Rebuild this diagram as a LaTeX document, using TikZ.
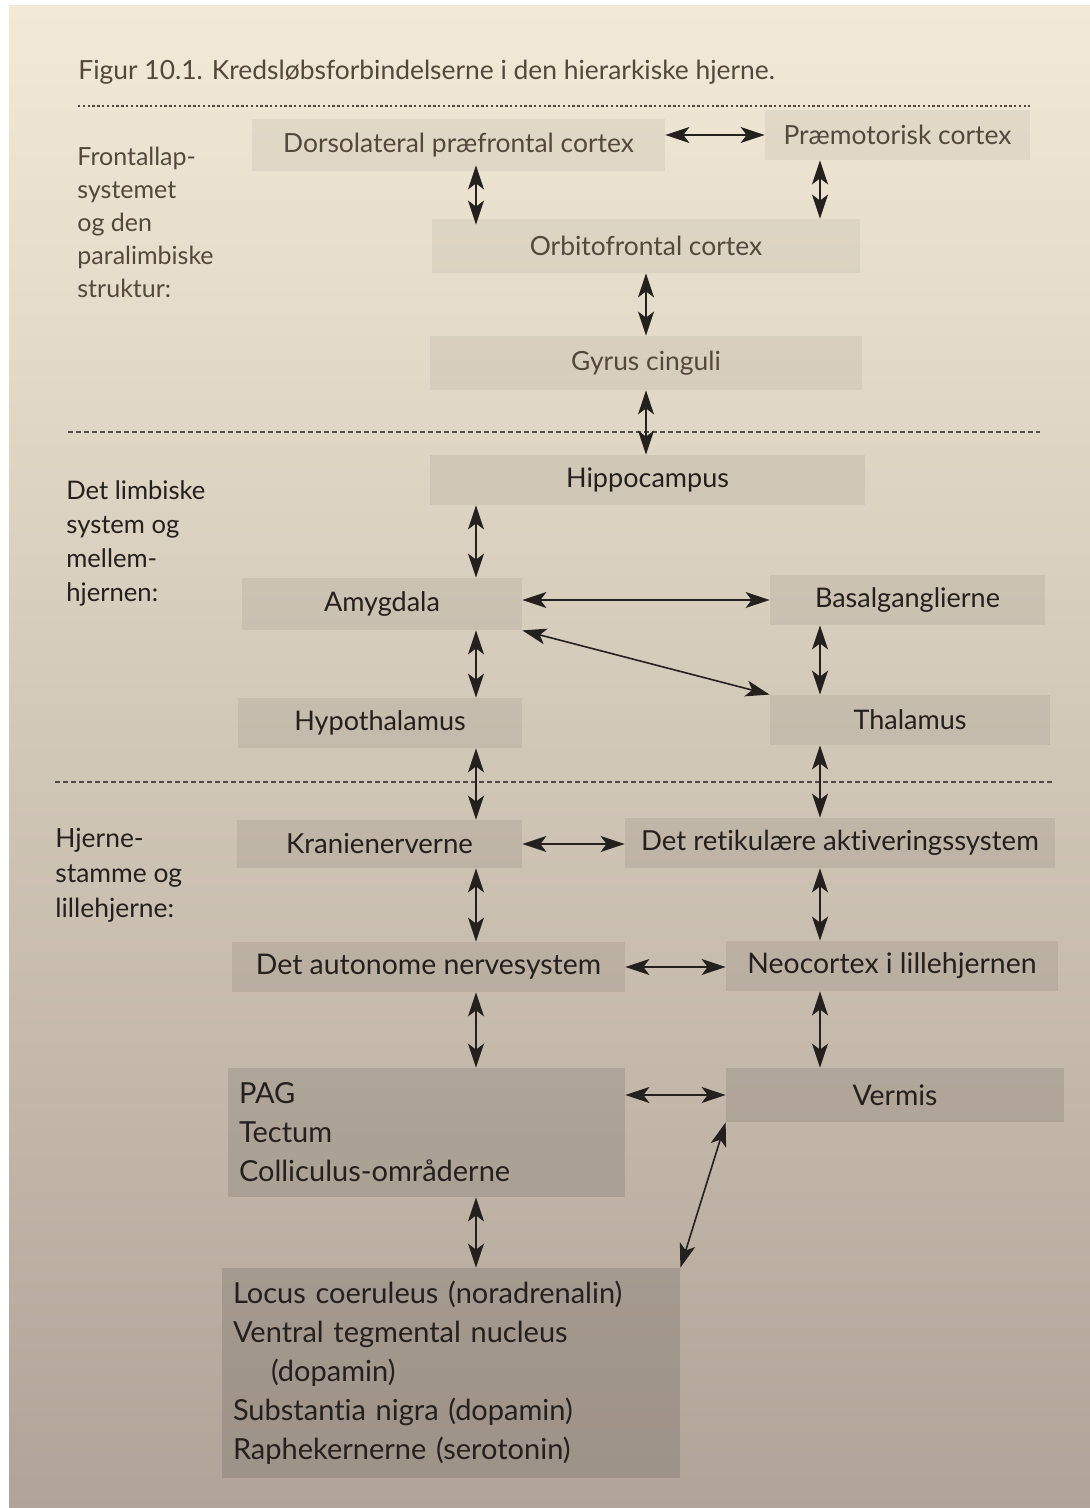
\documentclass[tikz,border=0pt]{standalone}
\usepackage{fontspec}
\setmainfont{Lato}[Ligatures=NoCommon]
\usetikzlibrary{arrows.meta}
\definecolor{papertop}{RGB}{242,234,214}
\definecolor{papermid}{RGB}{224,215,194}
\definecolor{paperbot}{RGB}{176,164,152}
\definecolor{boxtint}{RGB}{95,85,80}
\definecolor{ink}{RGB}{36,32,30}
\definecolor{inklight}{RGB}{84,72,60}

\begin{document}
\begin{tikzpicture}[x=0.5pt,y=-0.5pt,
  box/.style={fill=boxtint,fill opacity=#1,text opacity=1,text=ink,inner sep=0pt,
    font=\fontsize{13.5}{15}\selectfont},
  box/.default=0.12,
  listbox/.style={box=#1,align=left,inner xsep=5.5pt,font=\fontsize{14.5}{19.5}\selectfont},
  sidelabel/.style={anchor=north west,inner sep=0pt,align=left,text=ink,
    font=\fontsize{12.5}{16.5}\selectfont},
  biarrow/.style={{Stealth[length=12pt,width=8pt,inset=3pt]}-{Stealth[length=12pt,width=8pt,inset=3pt]},
    line width=0.8pt,draw=ink},
  divider/.style={draw=ink!80,line width=0.6pt,dash pattern=on 2.5pt off 1.5pt}]
\useasboundingbox (0,0) rectangle (1090,1508);
\fill[white] (0,0) rectangle (1090,1508);
\fill[top color=papertop,middle color=papermid,bottom color=paperbot] (9,6) rectangle (1090,1508);

\coordinate (colA) at (476,0);
\coordinate (colB) at (646,0);
\coordinate (colC) at (820,0);

\node[anchor=base west,inner sep=0pt,text=inklight,font=\fontsize{13.2}{15}\selectfont] (title) at (78,80)
  {Figur 10.1. Kredsløbsforbindelserne i den hierarkiske hjerne.};
\draw[divider,dash pattern=on 1.2pt off 1.2pt,draw=inklight] (78,106) -- (1030,106);

\node[sidelabel,text=inklight] (frontal) at (77,147) {Frontallap-\\systemet\\og den\\paralimbiske\\struktur:};
\node[box=0.08,text=inklight,font=\fontsize{13.2}{15}\selectfont,minimum width=206.5pt,minimum height=26pt] (dpc) at (458.5,145) {Dorsolateral præfrontal cortex};
\node[box=0.08,text=inklight,font=\fontsize{13.2}{15}\selectfont,minimum width=132.5pt,minimum height=25pt] (pmc) at (897.5,135) {Præmotorisk cortex};
\node[box=0.08,text=inklight,font=\fontsize{13.2}{15}\selectfont,minimum width=214pt,minimum height=27pt] (ofc) at (646,246) {Orbitofrontal cortex};
\node[box=0.08,text=inklight,font=\fontsize{13.2}{15}\selectfont,minimum width=216pt,minimum height=27pt] (gyr) at (646,363) {Gyrus cinguli};

\draw[divider] (68,432) -- (1040,432);

\node[sidelabel,font=\fontsize{12.8}{17}\selectfont] (limbic) at (66,480) {Det limbiske\\system og\\mellem-\\hjernen:};
\node[box=0.1,minimum width=217.5pt,minimum height=25pt] (hip) at (647.5,480) {Hippocampus};
\node[box=0.1,minimum width=140pt,minimum height=26pt] (amy) at (382,604) {Amygdala};
\node[box=0.1,minimum width=137.5pt,minimum height=25pt] (bas) at (907.5,600) {Basalganglierne};
\node[box=0.11,minimum width=142pt,minimum height=25pt] (hyp) at (380,723) {Hypothalamus};
\node[box=0.11,minimum width=140pt,minimum height=25pt] (thal) at (910,720) {Thalamus};

\draw[divider] (55,782) -- (1055,782);

\node[sidelabel,font=\fontsize{13.2}{17.5}\selectfont] (stem) at (55,828) {Hjerne-\\stamme og\\lillehjerne:};
\node[box=0.12,font=\fontsize{13.8}{15}\selectfont,minimum width=142.5pt,minimum height=24pt] (kra) at (379.5,844) {Kranienerverne};
\node[box=0.12,font=\fontsize{13.8}{15}\selectfont,minimum width=215pt,minimum height=25pt] (ras) at (840,843) {Det retikulære aktiveringssystem};
\node[box=0.13,font=\fontsize{14.2}{15}\selectfont,minimum width=196.5pt,minimum height=25pt] (ans) at (428.5,967) {Det autonome nervesystem};
\node[box=0.13,font=\fontsize{14.2}{15}\selectfont,minimum width=166pt,minimum height=25pt] (neo) at (892,966) {Neocortex i lillehjernen};
\node[listbox=0.2,text width=187.5pt,minimum height=64.5pt] (pag) at (426.5,1132.5) {PAG\\Tectum\\Colliculus-områderne};
\node[box=0.18,font=\fontsize{14.2}{15}\selectfont,minimum width=169pt,minimum height=27pt] (ver) at (895,1095) {Vermis};
\node[listbox=0.23,text width=218pt,minimum height=105pt] (loc) at (451,1373)
  {Locus coeruleus (noradrenalin)\\Ventral tegmental nucleus\\\hspace*{19pt}(dopamin)\\Substantia nigra (dopamin)\\Raphekernerne (serotonin)};

\draw[biarrow] (dpc.east |- pmc) -- (pmc.west);
\draw[biarrow,shorten <=-3pt,shorten >=-3pt] (dpc.south -| colA) -- (ofc.north -| colA);
\draw[biarrow] (pmc.south -| colC) -- (ofc.north -| colC);
\draw[biarrow] (ofc.south -| colB) -- (gyr.north -| colB);
\draw[biarrow] (gyr.south -| colB) -- (hip.north -| colB);
\draw[biarrow] (hip.south -| colA) -- (amy.north -| colA);
\draw[biarrow] (amy.east |- bas) -- (bas.west);
\draw[biarrow] (amy.south east) -- (thal.north west);
\draw[biarrow] (amy.south -| colA) -- (hyp.north -| colA);
\draw[biarrow] (bas.south -| colC) -- (thal.north -| colC);
\draw[biarrow] (hyp.south -| colA) -- (kra.north -| colA);
\draw[biarrow] (thal.south -| colC) -- (ras.north -| colC);
\draw[biarrow] (kra.east) -- (ras.west |- kra);
\draw[biarrow] (kra.south -| colA) -- (ans.north -| colA);
\draw[biarrow] (ras.south -| colC) -- (neo.north -| colC);
\draw[biarrow] (ans.east) -- (neo.west |- ans);
\draw[biarrow] (ans.south -| colA) -- (pag.north -| colA);
\draw[biarrow] (neo.south -| colC) -- (ver.north -| colC);
\draw[biarrow] (pag.east |- ver) -- (ver.west);
\draw[biarrow] (ver.south west) -- (loc.north east);
\draw[biarrow] (pag.south -| colA) -- (loc.north -| colA);
\end{tikzpicture}
\end{document}
